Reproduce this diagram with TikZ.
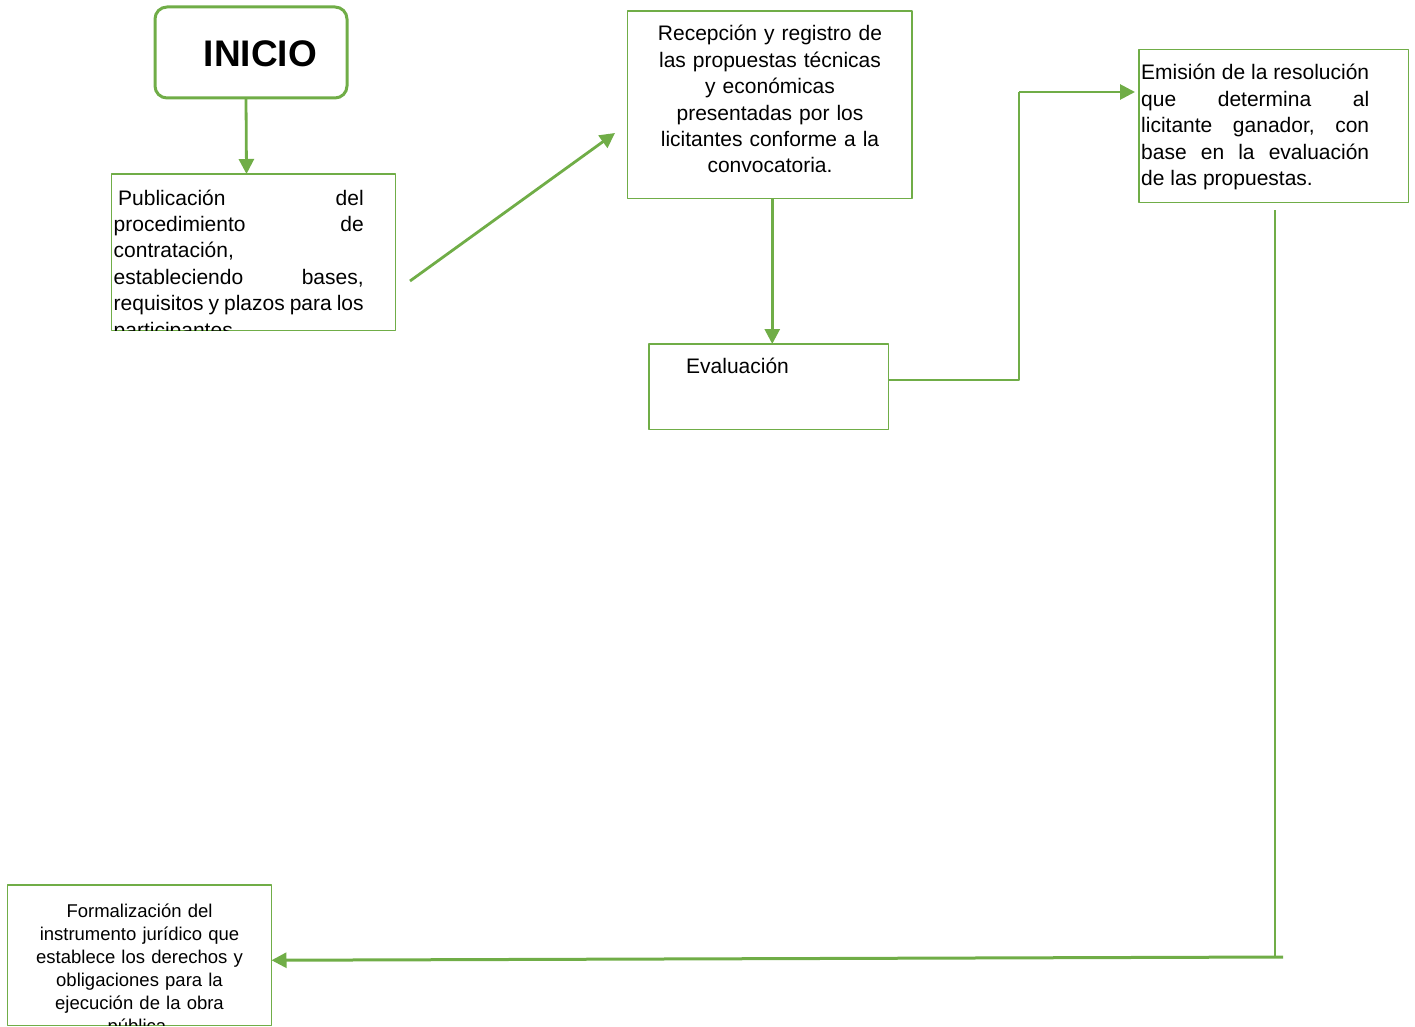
\documentclass[tikz,border=0pt]{standalone}
\usepackage{fontspec}
\setmainfont{Liberation Sans}
\usetikzlibrary{arrows.meta}
\definecolor{verde}{HTML}{70AD47}
\setlength{\parindent}{0pt}
\begin{document}
\begin{tikzpicture}[x=1pt,y=-1pt,line join=round,
	caja/.style={draw=verde,line width=1.8pt,inner sep=0pt,outer sep=0pt,anchor=north west},
	flecha/.style={draw=verde,line width=2.8pt,-{Triangle[length=15pt,width=15pt]}},
	linea/.style={draw=verde,line width=2pt},
	texto/.style={inner sep=0pt,font=\fontsize{21}{26.4}\selectfont}]
	\useasboundingbox (0,0) rectangle (1415,1027);
	% cajas
	\node[caja,rounded corners=12pt,line width=3pt,minimum width=192pt,minimum height=91pt] (ini) at (155,7) {};
	\node[caja,minimum width=284pt,minimum height=156.5pt] (pub) at (111.5,174) {};
	\node[caja,minimum width=284.5pt,minimum height=187.5pt] (rec) at (627.5,11) {};
	\node[caja,minimum width=239.5pt,minimum height=85.5pt] (eva) at (649,344) {};
	\node[caja,minimum width=269.5pt,minimum height=153pt] (emi) at (1139,49.5) {};
	\node[caja,minimum width=264pt,minimum height=140.5pt] (frm) at (7.5,885) {};
	% textos
	\node[inner sep=0pt,anchor=base,font=\fontsize{37}{44}\selectfont\bfseries] (ini-t) at (260.5,67) {INICIO};
	\begin{scope}
		\clip (pub.north west) rectangle (pub.south east);
		\node[texto,anchor=base west,text width=250pt,align=justify] (pub-t) at (113.5,205)
		{\hspace*{4.5pt}Publicación\hfill del\\ procedimiento\hfill de\\ contratación,\\
		estableciendo\hfill bases,\\ requisitos\hfill y\hfill plazos\hfill para\hfill los\\ participantes.};
	\end{scope}
	\node[texto,anchor=base,text width=284pt,align=center] (rec-t) at (770,41)
	{Recepción y registro de\\ las propuestas técnicas\\ y económicas\\ presentadas por los\\
	licitantes conforme a la\\ convocatoria.};
	\node[texto,anchor=base west] (eva-t) at (686,373) {Evaluación};
	\node[texto,anchor=base west,text width=228pt,align=justify] (emi-t) at (1141,80)
	{Emisión\hfill de\hfill la\hfill resolución\\ que\hfill determina\hfill al\\ licitante\hfill ganador,\hfill con\\
	base\hfill en\hfill la\hfill evaluación\\ de las propuestas.};
	\begin{scope}
		\clip (frm.north west) rectangle (frm.south east);
		\node[inner sep=0pt,anchor=base,text width=264pt,align=center,font=\fontsize{18.5}{23}\selectfont] (frm-t) at (139.5,917)
		{Formalización del\\ instrumento jurídico que\\ establece los derechos y\\ obligaciones para la\\
		ejecución de la obra\\ pública.};
	\end{scope}
	% conectores
	\path (410,281)coordinate(a1) (615,133)coordinate(a2)
	(1019,92)coordinate(b1) (1135,92)coordinate(b2)
	(1275,210)coordinate(c1) (1275,957)coordinate(c2) (1283,957)coordinate(c3);
	\draw[flecha] ([xshift=-5pt]ini.south) -- ([xshift=-7pt]pub.north);
	\draw[flecha] (a1) -- (a2);
	\draw[flecha] ([xshift=2.5pt]rec.south) -- ([xshift=3.5pt]eva.north);
	\draw[linea] ([yshift=6.5pt]eva.east) -| (b1);
	\draw[flecha] (b1) -- (b2);
	\draw[linea] (c1) -- (c2);
	\draw[flecha,line width=3pt] (c3) -- ([yshift=-5pt]frm.east);
\end{tikzpicture}
\end{document}
